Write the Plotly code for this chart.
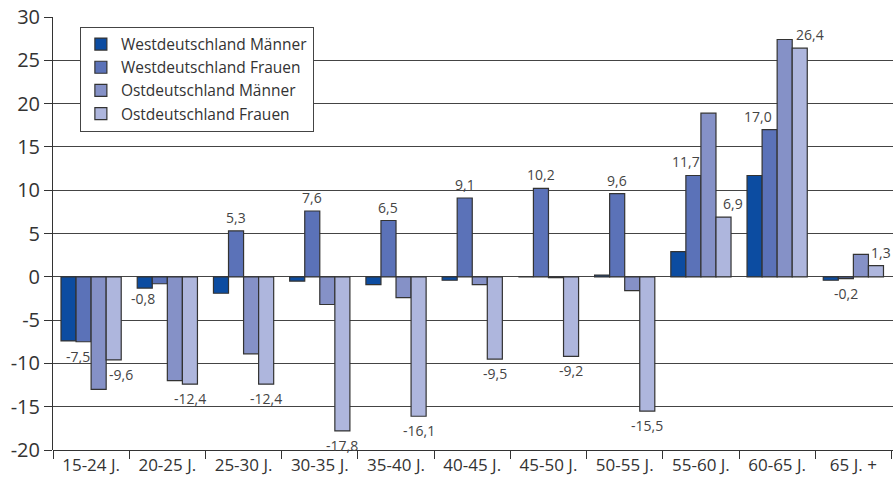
import plotly.graph_objects as go

# Age groups on the x axis
categories = ["15-24 J.", "20-25 J.", "25-30 J.", "30-35 J.", "35-40 J.", "40-45 J.",
              "45-50 J.", "50-55 J.", "55-60 J.", "60-65 J.", "65 J. +"]

# Change in percent per series
west_maenner = [-7.4, -1.3, -1.9, -0.5, -0.9, -0.4, 0.0, 0.2, 2.9, 11.7, -0.4]
west_frauen = [-7.5, -0.8, 5.3, 7.6, 6.5, 9.1, 10.2, 9.6, 11.7, 17.0, -0.2]
ost_maenner = [-13.0, -12.0, -8.9, -3.2, -2.4, -0.9, -0.1, -1.6, 18.9, 27.4, 2.6]
ost_frauen = [-9.6, -12.4, -12.4, -17.8, -16.1, -9.5, -9.2, -15.5, 6.9, 26.4, 1.3]

y_ticks = [-20, -15, -10, -5, 0, 5, 10, 15, 20, 25, 30]

# Horizontal nudges (px) for value labels that would collide with neighbouring bars
nudge_wf = [-6, -17, 0, 0, 0, 0, 0, 0, -7, -12, 0]
nudge_of = [7, 0, 0, 0, 0, 0, 0, 0, 9, 10, 5]

series = [
    ("Westdeutschland Männer", west_maenner, "#0c4ca1"),
    ("Westdeutschland Frauen", west_frauen, "#5b72b8"),
    ("Ostdeutschland Männer", ost_maenner, "#8591c7"),
    ("Ostdeutschland Frauen", ost_frauen, "#aeb6dd"),
]

W, H = 896, 483
M_L, M_R, M_T, M_B = 53, 3, 14, 33
BARGAP = 0.21


def fmt(v):
    return f"{v:.1f}".replace(".", ",")


fig = go.Figure()
for name, vals, color in series:
    fig.add_trace(go.Bar(
        name=name,
        x=categories,
        y=vals,
        marker=dict(color=color, line=dict(color="#333333", width=1.2)),
    ))

# Pixel offset of each bar's centre from its category centre
cat_px = (W - M_L - M_R) / len(categories)
bar_px = cat_px * (1 - BARGAP) / len(series)


def bar_offset(idx):
    return (idx - (len(series) - 1) / 2) * bar_px


annotations = []
for idx, vals, nudges in [(1, west_frauen, nudge_wf), (3, ost_frauen, nudge_of)]:
    for cat, v, n in zip(categories, vals, nudges):
        annotations.append(dict(
            x=cat, y=v, xref="x", yref="y",
            text=fmt(v), showarrow=False,
            xanchor="center",
            yanchor="bottom" if v >= 0 else "top",
            xshift=bar_offset(idx) + n,
            yshift=2 if v >= 0 else -3,
            font=dict(size=14, color="#444444", family="Open Sans"),
        ))

fig.update_layout(
    width=W,
    height=H,
    margin=dict(l=M_L, r=M_R, t=M_T, b=M_B),
    paper_bgcolor="white",
    plot_bgcolor="white",
    barmode="group",
    bargap=BARGAP,
    bargroupgap=0,
    font=dict(family="Open Sans", color="#333333"),
    annotations=annotations,
    showlegend=True,
    legend=dict(
        x=0.032, y=0.978, xanchor="left", yanchor="top",
        bgcolor="white", bordercolor="#444444", borderwidth=1,
        font=dict(size=15.5, color="#333333"),
        tracegroupgap=0,
        itemwidth=30,
    ),
    xaxis=dict(
        showgrid=False,
        showline=True, linecolor="#333333", linewidth=1,
        ticks="outside", ticklen=8, tickcolor="#333333",
        tickson="boundaries",
        tickfont=dict(size=17, color="#333333"),
        anchor="free", position=0,
    ),
    yaxis=dict(
        range=[-20, 30],
        tickvals=y_ticks,
        ticktext=[str(t) for t in y_ticks],
        showgrid=True, gridcolor="#444444", gridwidth=1,
        zeroline=True, zerolinecolor="#444444", zerolinewidth=1,
        showline=True, linecolor="#333333", linewidth=1,
        ticks="outside", ticklen=8, tickcolor="#333333",
        tickfont=dict(size=20, color="#333333"),
    ),
)

fig.write_html("out.html")
